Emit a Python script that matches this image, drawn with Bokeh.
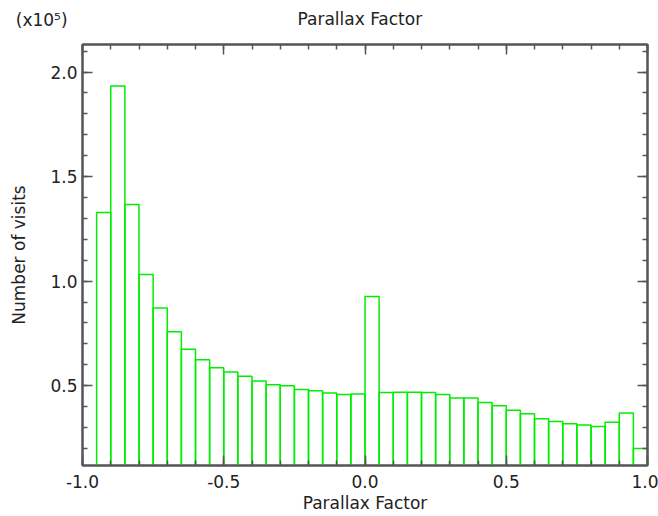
import numpy as np
from bokeh.plotting import figure
from bokeh.layouts import column
from bokeh.models import Range1d, LinearAxis, FixedTicker, CustomJSTickFormatter, ColumnDataSource
from bokeh.core.properties import value
from bokeh.embed import file_html
from bokeh.resources import INLINE

# ---- data ----
bin_width = 0.05
bin_left = [round(-0.95 + bin_width * i, 2) for i in range(39)]
visits = [132800, 193400, 136700, 103200, 87100, 75800, 67400, 62400, 58600, 56500,
          54500, 52200, 50400, 50000, 48100, 47500, 46500, 45800, 46000, 92700,
          46700, 46800, 46800, 46700, 45800, 44100, 44100, 41900, 40400, 38200,
          36600, 34200, 32900, 31800, 31200, 30500, 32500, 36900, 19900]
y_scale = 1e5

x_ticks = [-1.0, -0.5, 0.0, 0.5, 1.0]
x_tick_labels = ["-1.0", "-0.5", "0.0", "0.5", "1.0"]
x_minor = [round(-1.0 + 0.1 * i, 1) for i in range(21)]
y_ticks = [0.5, 1.0, 1.5, 2.0]
y_tick_labels = ["0.5", "1.0", "1.5", "2.0"]
y_minor = [round(0.1 * i, 1) for i in range(1, 22)]

title_text = "Parallax Factor"
x_label = "Parallax Factor"
y_label = "Number of visits"
multiplier_text = "(x10\u2075)"

FONT = "DejaVu Sans"
TXT = "#222222"
AX = "#555555"
W, H = 658, 516
HEAD = 38

# ---- header with title and multiplier ----
head = figure(width=W, height=HEAD, x_range=Range1d(0, W), y_range=Range1d(HEAD, 0),
              output_backend="svg", toolbar_location=None, title=None,
              x_axis_location=None, y_axis_location=None, min_border=0,
              min_border_left=0, min_border_right=0, min_border_top=0, min_border_bottom=0)
head.frame_align = False
head.outline_line_color = None
head.xgrid.visible = False
head.ygrid.visible = False
head.text(x=[297, 15.3], y=[18.5, 19.5], text=[title_text, multiplier_text],
          text_font=value(FONT), text_font_size="17px", text_color=TXT,
          text_align="left", text_baseline="alphabetic")

# ---- main histogram ----
src = ColumnDataSource(dict(
    left=bin_left,
    right=[b + bin_width for b in bin_left],
    top=[v / y_scale for v in visits],
    bottom=[0.0] * len(visits),
))

p = figure(width=W, height=H - HEAD, x_range=Range1d(-1.0, 1.0), y_range=Range1d(0.118, 2.132),
           output_backend="svg", toolbar_location=None, title=None,
           min_border_left=82, min_border_right=11, min_border_top=44 - HEAD, min_border_bottom=51)
p.frame_align = False
p.xgrid.visible = False
p.ygrid.visible = False
p.outline_line_color = AX
p.outline_line_width = 2

p.quad(left="left", right="right", top="top", bottom="bottom", source=src,
       fill_color=None, line_color="#00ee00", line_width=1.5)

def style_axis(ax, ticks, minor, labels, show):
    ax.ticker = FixedTicker(ticks=ticks, minor_ticks=minor)
    ax.axis_line_color = AX
    ax.axis_line_width = 2
    ax.major_tick_line_color = AX
    ax.minor_tick_line_color = AX
    ax.major_tick_line_width = 1.5
    ax.minor_tick_line_width = 1.5
    ax.major_tick_in = 10
    ax.major_tick_out = 0
    ax.minor_tick_in = 5
    ax.minor_tick_out = 0
    if show:
        ax.major_label_overrides = {t: l for t, l in zip(ticks, labels)}
        ax.major_label_text_font = FONT
        ax.major_label_text_font_size = "17px"
        ax.major_label_text_color = TXT
    else:
        ax.formatter = CustomJSTickFormatter(code="return ''")
        ax.major_label_text_font_size = "1px"
        ax.major_label_standoff = 0

style_axis(p.xaxis[0], x_ticks, x_minor, x_tick_labels, True)
style_axis(p.yaxis[0], y_ticks, y_minor, y_tick_labels, True)
p.xaxis[0].major_label_standoff = 9
p.yaxis[0].major_label_standoff = 5

for ax, lab, so in ((p.xaxis[0], x_label, 2), (p.yaxis[0], y_label, 18)):
    ax.axis_label = lab
    ax.axis_label_text_font = FONT
    ax.axis_label_text_font_size = "17px"
    ax.axis_label_text_font_style = "normal"
    ax.axis_label_text_color = TXT
    ax.axis_label_standoff = so

top_ax = LinearAxis()
style_axis(top_ax, x_ticks, x_minor, x_tick_labels, False)
p.add_layout(top_ax, "above")
right_ax = LinearAxis()
style_axis(right_ax, y_ticks, y_minor, y_tick_labels, False)
p.add_layout(right_ax, "right")

layout = column(head, p, spacing=0)
open("out.html", "w").write(file_html(layout, INLINE))
